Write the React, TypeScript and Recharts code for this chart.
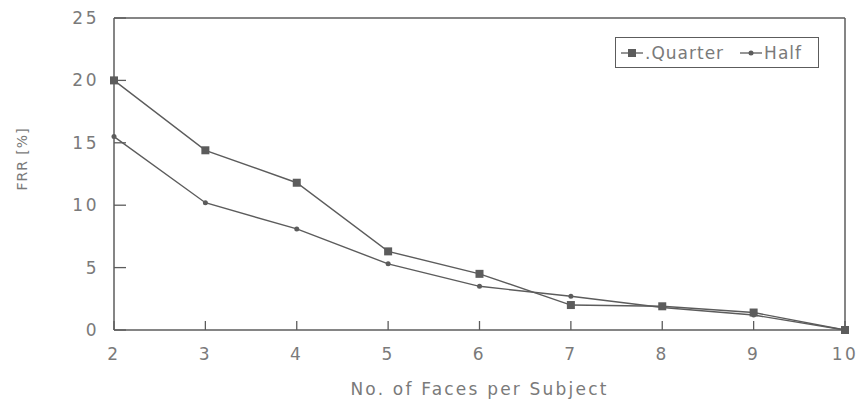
import { LineChart, Line, XAxis, YAxis, ReferenceLine } from "recharts";

// faces per subject (x) and FRR values
const faces = [2, 3, 4, 5, 6, 7, 8, 9, 10];
const quarter = [20, 14.4, 11.8, 6.3, 4.5, 2.0, 1.9, 1.4, 0];
const half = [15.5, 10.2, 8.1, 5.3, 3.5, 2.7, 1.8, 1.2, 0];
const yTicks = [0, 5, 10, 15, 20, 25];

const INK = "#5c5c5c";
const TEXT = "#7a7a7a";
const FONT = "'DejaVu Sans', Verdana, sans-serif";

const data = faces.map((f, i) => ({ faces: f, quarter: quarter[i], half: half[i] }));

const tickStyle = { fill: TEXT, fontSize: 17, fontFamily: FONT, letterSpacing: 2.5 };

const Square = ({ cx, cy }: any) => (
  <rect x={cx - 4} y={cy - 4} width={8} height={8} fill={INK} />
);

const Dot = ({ cx, cy }: any) => <circle cx={cx} cy={cy} r={2.5} fill={INK} />;

// rotated y title, placed a bit above the middle of the axis box
const YTitle = ({ viewBox }: any) => {
  const x = viewBox.x + 22;
  const y = viewBox.y + viewBox.height / 2 - 15;
  return (
    <text
      x={x}
      y={y}
      transform={`rotate(-90 ${x} ${y})`}
      textAnchor="middle"
      dominantBaseline="central"
      fill={TEXT}
      fontSize={14}
      fontFamily={FONT}
      letterSpacing={1}
    >
      FRR [%]
    </text>
  );
};

const LegendBox = () => (
  <div
    style={{
      position: "absolute",
      left: 615,
      top: 37,
      border: `1.5px solid ${INK}`,
      width: 204,
      height: 31,
      display: "flex",
      alignItems: "center",
      fontFamily: FONT,
      fontSize: 17,
      letterSpacing: 1,
      color: TEXT,
      boxSizing: "border-box",
      background: "#fff",
    }}
  >
    <svg width={26} height={12} style={{ marginLeft: 3 }}>
      <line x1={2} x2={24} y1={6} y2={6} stroke={INK} strokeWidth={1.3} />
      <rect x={9} y={2} width={8} height={8} fill={INK} />
    </svg>
    <span>.Quarter</span>
    <svg width={26} height={12} style={{ marginLeft: 14 }}>
      <line x1={2} x2={24} y1={6} y2={6} stroke={INK} strokeWidth={1.3} />
      <circle cx={13} cy={6} r={2.5} fill={INK} />
    </svg>
    <span>Half</span>
  </div>
);

export default function App() {
  return (
    <div style={{ position: "absolute", left: 0, top: 0, background: "#fff" }}>
      <LineChart
        width={859}
        height={399}
        data={data}
        margin={{ top: 18, right: 14, left: 0, bottom: 0 }}
      >
        <XAxis
          dataKey="faces"
          type="number"
          domain={[2, 10]}
          ticks={faces}
          height={69}
          tickSize={-9}
          tickMargin={27}
          axisLine={{ stroke: INK, strokeWidth: 1.5 }}
          tickLine={{ stroke: INK, strokeWidth: 1.3 }}
          tick={tickStyle}
          label={{
            value: "No. of Faces per Subject",
            position: "insideBottom",
            offset: 4,
            fill: TEXT,
            fontSize: 17,
            fontFamily: FONT,
            letterSpacing: 2.2,
          }}
        />
        <YAxis
          type="number"
          domain={[0, 25]}
          ticks={yTicks}
          width={114}
          tickSize={-12}
          tickMargin={27}
          axisLine={{ stroke: INK, strokeWidth: 1.5 }}
          tickLine={{ stroke: INK, strokeWidth: 1.3 }}
          tick={tickStyle}
          label={<YTitle />}
        />
        <ReferenceLine y={25} stroke={INK} strokeWidth={1.5} />
        <ReferenceLine x={10} stroke={INK} strokeWidth={1.5} />
        <Line
          dataKey="quarter"
          stroke={INK}
          strokeWidth={1.4}
          dot={<Square />}
          isAnimationActive={false}
        />
        <Line
          dataKey="half"
          stroke={INK}
          strokeWidth={1.4}
          dot={<Dot />}
          isAnimationActive={false}
        />
      </LineChart>
      <LegendBox />
    </div>
  );
}
